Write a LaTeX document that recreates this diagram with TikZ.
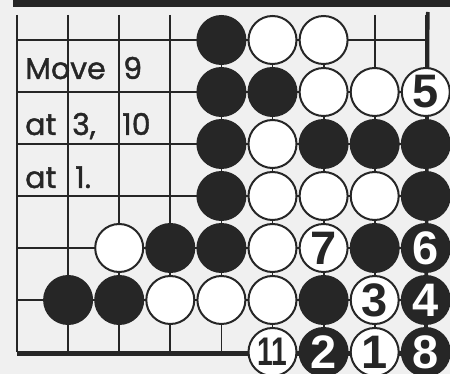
\documentclass[tikz,border=0pt]{standalone}
\usepackage{fontspec}
\usepackage{graphicx}
\setmainfont{Poppins}[FakeBold=1.3]
\newfontfamily\stonefont{Liberation Sans}

\begin{document}
\begin{tikzpicture}[
    x=51.1pt,
    y=-52pt,
    gridline/.style={
        line width=1.8pt,
        black!85
    },
    edgeline/.style={
        line width=3.6pt,
        black!85
    },
    stone/.style={
        circle,
        minimum size=48pt,
        inner sep=0pt,
        line width=2pt,
        draw=black!85,
        font=\stonefont\bfseries\fontsize{47}{47}\selectfont
    },
    blackstone/.style={
        stone,
        fill=black!85,
        text=white
    },
    whitestone/.style={
        stone,
        fill=white,
        text=black!85
    },
    note/.style={
        anchor=base west,
        inner sep=0pt,
        text=black!85,
        font=\fontsize{30}{30}\selectfont
    }
]

% Frame
\useasboundingbox (-17pt,40pt) rectangle (433pt,-334pt);
\fill[white!94!black] (-17pt,40pt) rectangle (433pt,-334pt);
\fill[black!85] (-4pt,40pt) rectangle (433pt,33pt);

% Board
\foreach \c in {0,...,8}
    \draw[gridline] (\c,0) ++(0pt,25pt) -- (\c,6);
\foreach \r in {0,...,6}
    \draw[gridline] (0,\r) -- (8,\r);
\draw[edgeline] (8,0) ++(2pt,28pt) -- (8,6);
\draw[edgeline] (0,6) ++(0pt,-2pt) -- ++(8,0);

% Text
\node[note] (line1) at (8pt,-39pt) {\makebox[98pt][l]{Move}9};
\node[note] (line2) at (8pt,-95pt) {\makebox[47pt][l]{at}\makebox[50pt][l]{3,}10};
\node[note] (line3) at (8pt,-148pt) {\makebox[50pt][l]{at}1.};

% Stones
\foreach \c/\r in {4/0, 4/1, 5/1, 4/2, 6/2, 7/2, 8/2, 4/3, 8/3, 3/4, 4/4, 7/4, 1/5, 2/5, 6/5}
    \node[blackstone] (b\c\r) at (\c,\r) {};
\foreach \c/\r in {5/0, 6/0, 6/1, 7/1, 5/2, 5/3, 6/3, 7/3, 2/4, 5/4, 3/5, 4/5, 5/5}
    \node[whitestone] (w\c\r) at (\c,\r) {};

% Numbered moves
\node[whitestone] (move1) at (7,6) {1};
\node[blackstone] (move2) at (6,6) {2};
\node[whitestone] (move3) at (7,5) {3};
\node[blackstone] (move4) at (8,5) {4};
\node[whitestone] (move5) at (8,1) {5};
\node[blackstone] (move6) at (8,4) {6};
\node[whitestone] (move7) at (6,4) {7};
\node[blackstone] (move8) at (8,6) {8};
\node[whitestone] (move11) at (5,6) {\scalebox{0.6}[0.85]{11}};

\end{tikzpicture}
\end{document}
